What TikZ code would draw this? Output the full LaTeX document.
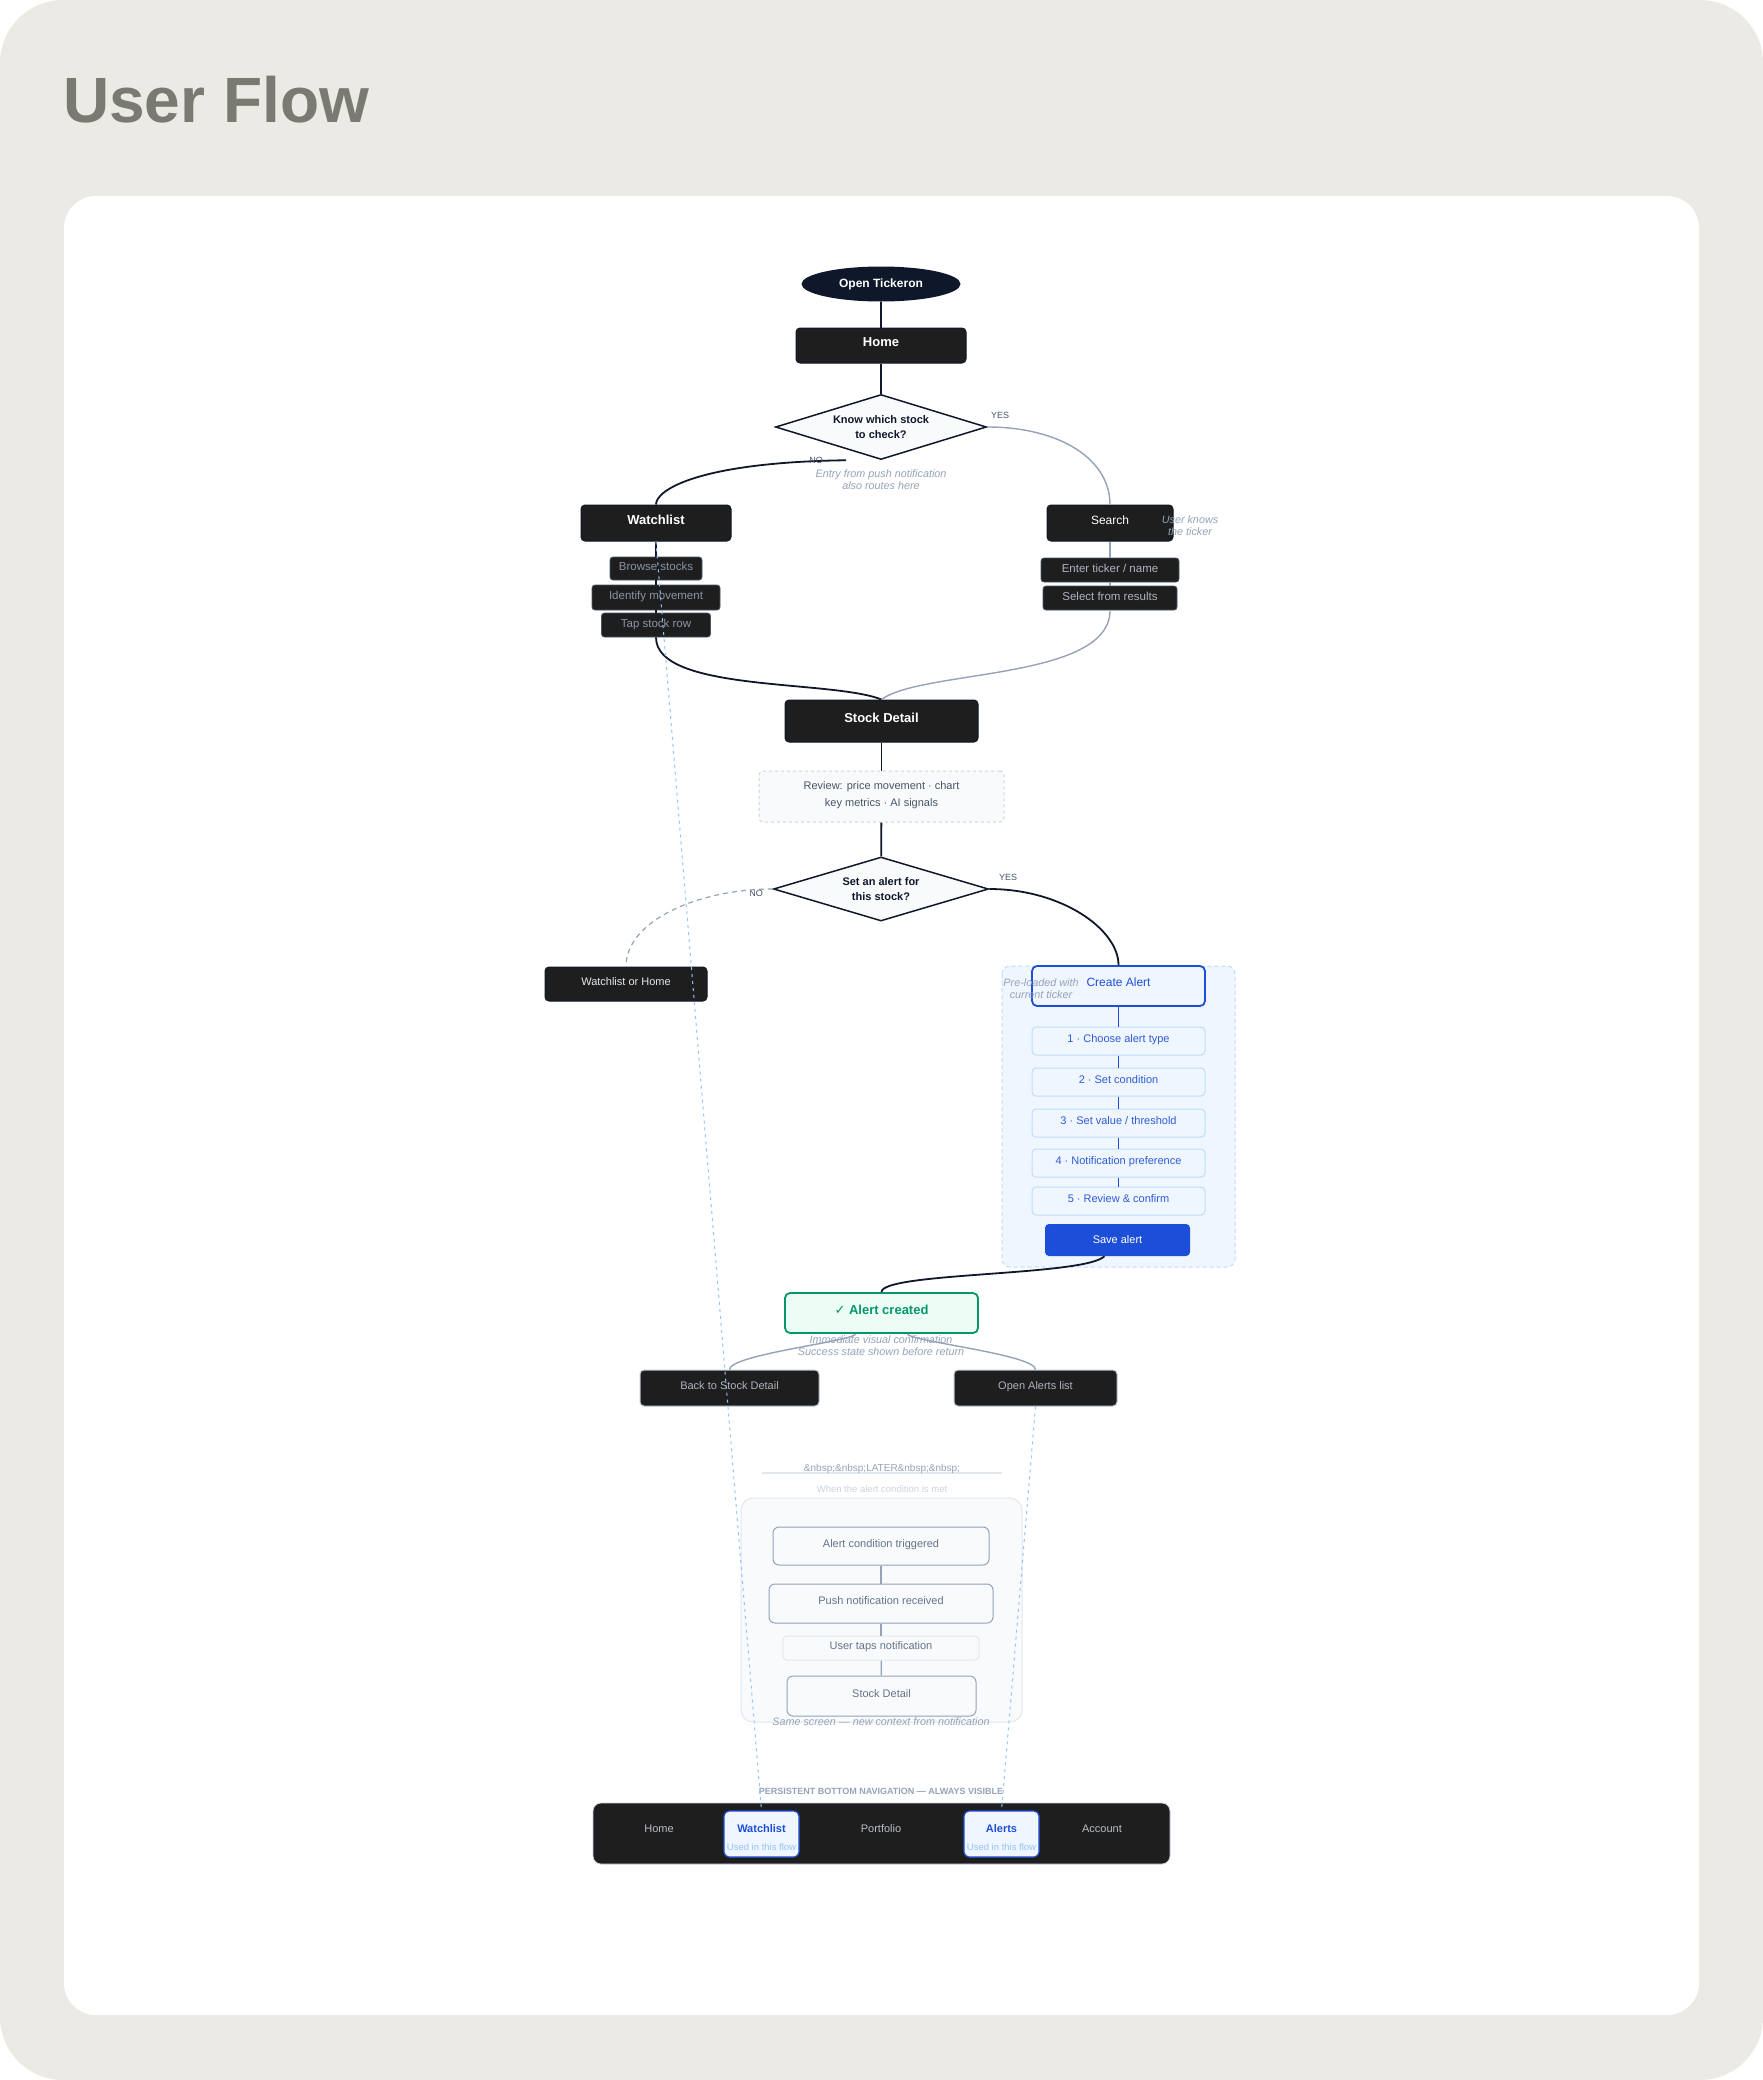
\documentclass[tikz,border=0pt]{standalone}
\usepackage{fontspec}
\setmainfont{Liberation Sans}
\newfontfamily\symfont{DejaVu Sans}
\usetikzlibrary{shapes.geometric}

\definecolor{pagebg}{HTML}{EBEAE4}
\definecolor{titlegray}{HTML}{797A72}
\definecolor{navy}{HTML}{0F172A}
\definecolor{boxdark}{HTML}{1E1E1E}
\definecolor{slate}{HTML}{94A3B8}
\definecolor{slatedark}{HTML}{475569}
\definecolor{slatemid}{HTML}{64748B}
\definecolor{slatelight}{HTML}{CBD5E1}
\definecolor{mist}{HTML}{E2E8F0}
\definecolor{paper}{HTML}{F8FAFC}
\definecolor{alertblue}{HTML}{1D4ED8}
\definecolor{stepblue}{HTML}{2F5BD8}
\definecolor{paleblue}{HTML}{EFF6FF}
\definecolor{lineblue}{HTML}{BFDBFE}
\definecolor{dotblue}{HTML}{93C5FD}
\definecolor{okgreen}{HTML}{059669}
\definecolor{palegreen}{HTML}{ECFDF5}
\definecolor{subtext}{HTML}{8A93A6}
\definecolor{searchtext}{HTML}{ADB3BE}
\definecolor{navtext}{HTML}{B8BEC8}

\newcommand{\fsz}[2]{\fontsize{#1}{#2}\selectfont}

\tikzset{
    screen/.style={draw=navy, fill=boxdark, line width=1pt, rounded corners=4pt, inner sep=0pt, text height=9.5pt, text depth=7.5pt, text=white, font=\fsz{13}{16}\bfseries},
    substep/.style={draw=slatedark, fill=boxdark, line width=0.8pt, rounded corners=3pt, inner sep=0pt, text height=8.5pt, text depth=4pt, text=subtext, font=\fsz{11.5}{14}},
    decision/.style={diamond, shape aspect=3.3, draw=navy, fill=paper, line width=1.5pt, inner sep=0pt, align=center, text=navy, font=\fsz{11}{14.5}\bfseries},
    stepbox/.style={draw=lineblue, fill=paleblue, line width=1pt, rounded corners=4pt, inner sep=0pt, minimum width=173pt, minimum height=28pt, text height=8pt, text depth=6pt, text=stepblue, font=\fsz{11}{13}},
    laterbox/.style={draw=slate, fill=paper, line width=1pt, rounded corners=6pt, inner sep=0pt, text height=8pt, text depth=6pt, text=slatemid, font=\fsz{11}{14}},
    note/.style={text=slate, align=center, font=\fsz{10.8}{12}\itshape},
    flowlabel/.style={text=slatedark, font=\fsz{9}{11}},
    navitem/.style={text=navtext, font=\fsz{11}{13}},
    mainline/.style={draw=navy, line width=1.8pt},
    altline/.style={draw=slate, line width=1.4pt},
    navlink/.style={draw=dotblue, line width=1pt, dash pattern=on 3pt off 4pt},
    navtab/.style={draw=alertblue, fill=paleblue, line width=1.2pt, rounded corners=5pt, minimum width=75pt, minimum height=46pt, inner sep=0pt}
}

\begin{document}
\begin{tikzpicture}[x=1pt,y=-1pt]
    % Page and card
    \useasboundingbox (0,0) rectangle (1763,2080);
    \fill[pagebg, rounded corners=63pt] (0,0) rectangle (1763,2080);
    \fill[white, rounded corners=32pt] (64,196) rectangle (1699,2015);
    \node[anchor=base west, inner sep=0pt, text=titlegray, font=\fsz{64}{70}\bfseries] (title) at (63,122) {User Flow};

    % Entry and first decision
    \node[ellipse, fill=navy, minimum width=159pt, minimum height=35pt, inner sep=0pt, text=white, font=\fsz{12}{14}\bfseries] (open) at (881,284) {Open Tickeron};
    \node[screen, minimum width=170pt, minimum height=35pt] (home) at (881,345.5) {Home};
    \node[decision, minimum width=211pt, minimum height=65pt] (know) at (881,427) {Know which stock\\to check?};
    \draw[mainline] (open) -- (home);
    \draw[mainline] (home) -- (know);
    \node[flowlabel] (yesknow) at (1000,415) {YES};
    \node[note] (pushnote) at (881,480) {Entry from push notification\\also routes here};

    % Watchlist branch
    \node[screen, minimum width=150pt, minimum height=36pt] (watch) at (656,523) {Watchlist};
    \node[substep, minimum width=92pt, minimum height=23pt] (browse) at (656,568.5) {Browse stocks};
    \node[substep, minimum width=128pt, minimum height=25pt] (identify) at (656,597.5) {Identify movement};
    \node[substep, minimum width=109pt, minimum height=24pt] (tap) at (656,625) {Tap stock row};
    \draw[mainline] ([xshift=-35pt]know.south) .. controls +(-146,2) and +(0,-15) .. (watch.north);
    \node[flowlabel] (noknow) at (816,460) {NO};
    \draw[mainline] (watch) -- (browse);
    \draw[mainline] (browse) -- (identify);
    \draw[mainline] (identify) -- (tap);

    % Search branch
    \node[screen, minimum width=126pt, minimum height=36pt, font=\fsz{12}{14}] (search) at (1110,523) {Search};
    \node[substep, text=searchtext, minimum width=138pt, minimum height=24pt] (enter) at (1110,570) {Enter ticker / name};
    \node[substep, text=searchtext, minimum width=134pt, minimum height=24pt] (select) at (1110,598) {Select from results};
    \draw[altline] (know.east) .. controls +(73,0) and +(0,-45) .. (search.north);
    \draw[altline] (search) -- (enter);
    \draw[altline] (enter) -- (select);
    \node[note] (knows) at (1190,526) {User knows\\the ticker};

    % Stock detail and second decision
    \node[screen, minimum width=193pt, minimum height=42pt] (detail) at (881.5,721) {Stock Detail};
    \draw[mainline] (tap.south) .. controls +(0,55) and +(-50,-20) .. (detail.north);
    \draw[altline] (select.south) .. controls +(0,70) and +(40,-30) .. (detail.north);
    \node[draw=slatelight, dashed, fill=paper, rounded corners=4pt, line width=1pt, minimum width=245pt, minimum height=51pt, inner sep=0pt, align=center, text=slatedark, font=\fsz{11}{17}] (review) at (881.5,796.5) {Review: price movement · chart\\key metrics · AI signals\\[-11.5pt]};
    \node[decision, minimum width=215pt, minimum height=64pt] (setalert) at (881,889) {Set an alert for\\this stock?};
    \draw[mainline] (detail) -- (review);
    \draw[mainline] (review) -- (setalert);
    \node[flowlabel] (yesalert) at (1008,877) {YES};
    \node[flowlabel] (noalert) at (756,893) {NO};

    % No alert
    \node[screen, minimum width=162pt, minimum height=34pt, text=mist, font=\fsz{11}{13}] (wlhome) at (626,984) {Watchlist or Home};
    \draw[altline, line width=1.2pt, dash pattern=on 5pt off 4pt] (setalert.west) .. controls +(-74,0) and +(0,-46) .. (wlhome.north);

    % Create alert group
    \draw[draw=lineblue, fill=paleblue, dash pattern=on 4pt off 3pt, line width=1pt, rounded corners=8pt] (1002,966) rectangle (1235,1267);
    \node[draw=alertblue, fill=paleblue, line width=1.8pt, rounded corners=5pt, minimum width=173pt, minimum height=40pt, inner sep=0pt, text height=9pt, text depth=7.5pt, text=alertblue, font=\fsz{12}{14}] (create) at (1118.5,986) {Create Alert};
    \draw[mainline] (setalert.east) .. controls +(72,0) and +(0,-36) .. (create.north);
    \foreach \i/\y/\txt in {1/1041/{Choose alert type}, 2/1082/{Set condition}, 3/1123/{Set value / threshold}, 4/1163/{Notification preference}, 5/1201/{Review \& confirm}}
        \node[stepbox] (step\i) at (1118.5,\y) {\i\ · \txt};
    \draw[draw=alertblue, line width=1.8pt] (create) -- (step1);
    \foreach \i [count=\j from 2] in {1,...,4}
        \draw[draw=alertblue, line width=1.8pt] (step\i) -- (step\j);
    \node[fill=alertblue, rounded corners=4pt, minimum width=145pt, minimum height=32pt, inner sep=0pt, text=white, font=\fsz{11}{13}] (save) at (1117.5,1240) {Save alert};
    \node[note] (preload) at (1041,989) {Pre-loaded with\\current ticker};

    % Confirmation
    \node[draw=okgreen, fill=palegreen, line width=1.8pt, rounded corners=5pt, minimum width=193pt, minimum height=40pt, inner sep=0pt, text height=9.5pt, text depth=7pt, text=okgreen, font=\fsz{13}{15}\bfseries] (created) at (881.5,1313) {{\symfont ✓} Alert created};
    \draw[mainline] ([xshift=-13pt]save.south) .. controls +(-20,20) and +(0,-20) .. (created.north);
    \node[screen, draw=slate!60, minimum width=179pt, minimum height=36pt, text=searchtext, font=\fsz{11}{13}] (back) at (729.5,1388) {Back to Stock Detail};
    \node[screen, draw=slate!60, minimum width=163pt, minimum height=36pt, text=searchtext, font=\fsz{11}{13}] (openal) at (1035.5,1388) {Open Alerts list};
    \draw[altline] ([xshift=-26pt]created.south) .. controls +(0,7) and +(0,-15) .. (back.north);
    \draw[altline] ([xshift=26pt]created.south) .. controls +(0,7) and +(0,-15) .. (openal.north);
    \node[note] (confirmnote) at (881,1346) {Immediate visual confirmation\\Success state shown before return};

    % Later
    \draw[mist, line width=1.5pt] (762,1473) -- (1002,1473);
    \node[text=slate, font=\fsz{10}{12}] (later) at (882,1469) {\&nbsp;\&nbsp;LATER\&nbsp;\&nbsp;};
    \node[text=slatelight, font=\fsz{9.5}{11}] (when) at (882,1489) {When the alert condition is met};
    \draw[draw=mist, fill=paper, line width=1pt, rounded corners=12pt] (741,1498) rectangle (1022,1722);
    \node[laterbox, minimum width=216pt, minimum height=38pt] (trig) at (881,1546) {Alert condition triggered};
    \node[laterbox, minimum width=224pt, minimum height=39pt] (push) at (881,1603.5) {Push notification received};
    \node[laterbox, draw=mist, rounded corners=4pt, minimum width=196pt, minimum height=24pt] (taps) at (881,1648) {User taps notification};
    \node[laterbox, minimum width=189pt, minimum height=40pt] (detailagain) at (881.5,1696) {Stock Detail};
    \draw[altline, line width=1.2pt] (trig) -- (push);
    \draw[altline, line width=1.2pt] (push) -- (taps);
    \draw[altline, line width=1.2pt] (taps) -- (detailagain);
    \node[note] (same) at (881,1722) {Same screen — new context from notification};

    % Bottom navigation
    \node[text=slate, font=\fsz{9}{11}\bfseries] (navtitle) at (881,1791) {PERSISTENT BOTTOM NAVIGATION — ALWAYS VISIBLE};
    \node[fill=boxdark, draw=slatelight, line width=0.8pt, rounded corners=8pt, minimum width=577pt, minimum height=61pt, inner sep=0pt] (navbar) at (881.5,1833.5) {};
    \node[navtab] (navwatch) at (761.5,1834) {};
    \node[navtab] (navalerts) at (1001.5,1834) {};
    \node[navitem] (navhome) at (659,1829) {Home};
    \node[navitem] (navportfolio) at (881,1829) {Portfolio};
    \node[navitem] (navaccount) at (1102,1829) {Account};
    \node[text=alertblue, font=\fsz{11}{13}\bfseries] (watchtab) at (761.5,1829) {Watchlist};
    \node[text=alertblue, font=\fsz{11}{13}\bfseries] (alerttab) at (1001.5,1829) {Alerts};
    \node[text=dotblue, font=\fsz{9.5}{11}] (watchused) at (761.5,1847) {Used in this flow};
    \node[text=dotblue, font=\fsz{9.5}{11}] (alertused) at (1001.5,1847) {Used in this flow};

    % Links to the navigation
    \draw[navlink] (watch.south) -- (navwatch.north);
    \draw[navlink] (openal.south) -- (navalerts.north);
\end{tikzpicture}
\end{document}
